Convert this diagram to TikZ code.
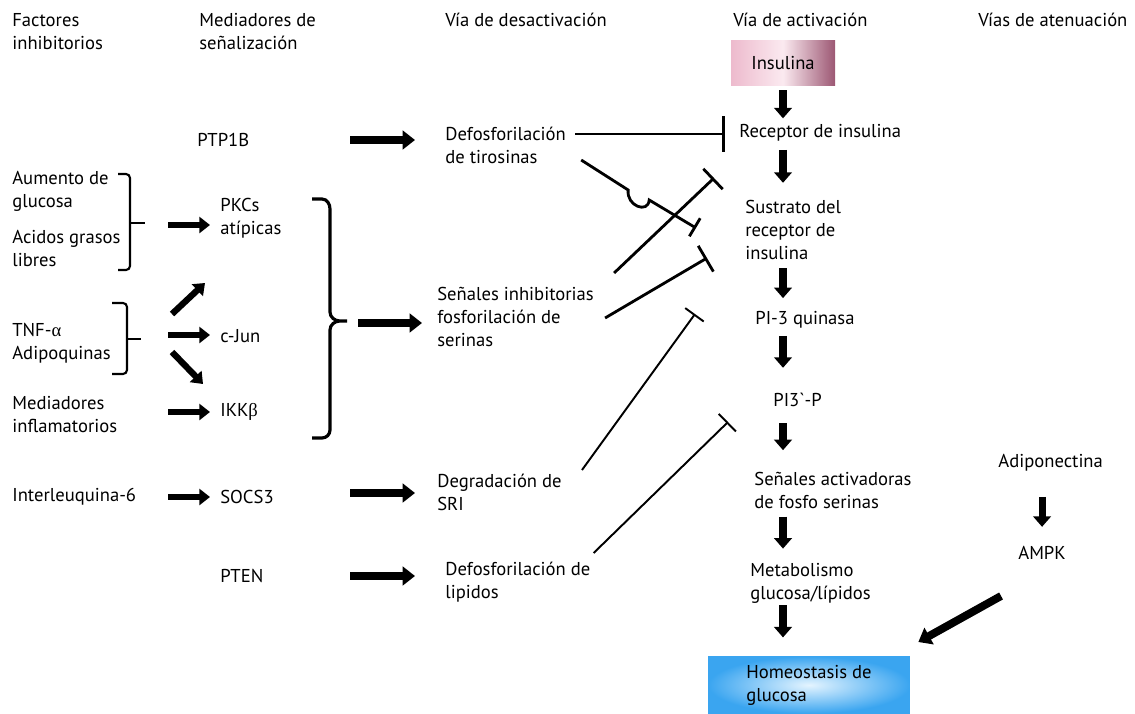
\documentclass[tikz,border=0pt]{standalone}
\usepackage{fontspec}
\setmainfont{PT Sans}
\newfontfamily\grk{Liberation Serif}
\usetikzlibrary{positioning, calc, arrows.meta}
\definecolor{insL}{HTML}{EDBACD}
\definecolor{insM}{HTML}{FBEAF0}
\definecolor{insR}{HTML}{9C5773}
\definecolor{homO}{HTML}{3AA5F0}
\definecolor{homI}{HTML}{E4F4FF}

\begin{document}
\begin{tikzpicture}[x=0.02cm, y=-0.02cm,
	every node/.style={font=\fontsize{10.6}{13.1}\selectfont, inner sep=0pt},
	lbl/.style={anchor=west, align=left},
	fatarrow/.style={line width=4.5pt, -{Triangle[length=7pt, width=10.5pt]}},
	midarrow/.style={line width=3.6pt, -{Triangle[length=6pt, width=9pt]}},
	downarrow/.style={line width=4pt, -{Triangle[length=6pt, width=10pt]}},
	inhib/.style={line width=1.6pt, -{Bar[width=#1]}}, inhib/.default=14pt,
	thininhib/.style={line width=1.1pt, -{Bar[width=#1]}}, thininhib/.default=13pt]
	\useasboundingbox (0,0) rectangle (1135,713);

	% column headers
	\node[lbl] (hfac) at (12,32) {Factores\\inhibitorios};
	\node[lbl] (hmed) at (199,32) {Mediadores de\\señalización};
	\node[lbl] (hdes) at (445,20) {Vía de desactivación};
	\node[lbl] (hact) at (733,20) {Vía de activación};
	\node[lbl] (hate) at (978,20) {Vías de atenuación};

	% activation pathway
	\node[minimum width=2.08cm, minimum height=0.92cm, left color=insL, right color=insR, middle color=insM] (ins) at (783,63) {Insulina};
	\node[lbl] (rec) at (739,133) {Receptor de insulina};
	\node[lbl] (sus) at (745,230) {Sustrato del\\receptor de\\insulina};
	\node[lbl] (pi3) at (755,320) {PI-3 quinasa};
	\node[lbl] (pip) at (773,400) {PI3\textasciigrave-P};
	\node[lbl] (sac) at (754,490) {Señales activadoras\\de fosfo serinas};
	\node[lbl] (met) at (750,583) {Metabolismo\\glucosa/lípidos};
	\node[minimum width=4.04cm, minimum height=1.14cm, align=left, inner color=homI, outer color=homO] (hom) at (809,685) {Homeostasis de\\glucosa};

	\draw[downarrow] (ins.south) ++(0,4) -- ++(0,28);
	\draw[downarrow] (rec.south -| ins.south) ++(0,8) -- ++(0,33);
	\draw[downarrow] (sus.south -| ins.south) ++(0,8) -- ++(0,30);
	\draw[downarrow] (pi3.south -| ins.south) ++(0,7) -- ++(0,32);
	\draw[downarrow] (pip.south -| ins.south) ++(0,16) -- ++(0,27);
	\draw[downarrow] (sac.south -| ins.south) ++(0,8) -- ++(0,32);
	\draw[downarrow] (met.south -| ins.south) ++(0,2) -- ++(0,32);

	% attenuation
	\node[lbl] (adi) at (998,463) {Adiponectina};
	\node[lbl] (ampk) at (1018,553) {AMPK};
	\draw[downarrow] (adi.south -| ampk.south) ++(0,25) -- ++(0,30);
	\draw[fatarrow] ([shift={(-41,36)}]ampk.south) -- ([shift={(8,-43)}]hom.east);

	% inhibitory factors
	\node[lbl] (aum) at (12,191) {Aumento de\\glucosa};
	\node[lbl] (aci) at (12,248) {Acidos grasos\\libres};
	\node[lbl] (tnf) at (12,343) {TNF-{\grk α}\\Adipoquinas};
	\node[lbl] (medi) at (12,415) {Mediadores\\inflamatorios};
	\node[lbl] (il6) at (12,497) {Interleuquina-6};

	% signalling mediators
	\node[lbl] (ptp) at (197,140) {PTP1B};
	\node[lbl] (pkc) at (220,218) {PKCs\\atípicas};
	\node[lbl] (cjun) at (220,336) {c-Jun};
	\node[lbl] (ikk) at (220,412) {IKK{\grk β}};
	\node[lbl] (socs) at (220,497) {SOCS3};
	\node[lbl] (pten) at (220,576) {PTEN};

	% deactivation pathway
	\node[lbl] (defty) at (445,145) {Defosforilación\\de tirosinas};
	\node[lbl] (sinh) at (437,317) {Señales inhibitorias\\fosforilación de\\serinas};
	\node[lbl] (deg) at (437,492) {Degradación de\\SRI};
	\node[lbl] (defli) at (445,582) {Defosforilación de\\lipidos};

	% brackets
	\draw[line width=1.2pt] (118,174) -- (126,174) to[out=0,in=90] (130,178) -- (130,266) to[out=-90,in=0] (126,270) -- (118,270);
	\draw[line width=1.2pt] (130,223) -- (145,223) coordinate (b1);
	\draw[line width=1.2pt] (112,303) -- (123,303) to[out=0,in=90] (127,307) -- (127,370) to[out=-90,in=0] (123,374) -- (112,374);
	\draw[line width=1.2pt] (127,339) -- (141,339) coordinate (b2);
	\draw[line width=1.8pt] (312,199) -- (322,199) to[out=0,in=90] (330,209) -- (330,312) to[out=-90,in=180] (340,321) -- (347,321) coordinate (bt)
		-- (340,321) to[out=180,in=90] (330,330) -- (330,430) to[out=-90,in=0] (322,438) -- (312,438);

	\draw[midarrow] ([shift={(23,2)}]b1) -- ([shift={(-10,7)}]pkc.west);
	\draw[midarrow] ([shift={(31,-25)}]b2) -- ([shift={(-15,65)}]pkc.west);
	\draw[midarrow] ([shift={(27,-4)}]b2) -- ([shift={(-10,-1)}]cjun.west);
	\draw[midarrow] ([shift={(31,13)}]b2) -- ([shift={(-17,-28)}]ikk.west);
	\draw[midarrow] ([shift={(-52,0)}]ikk.west) -- ([shift={(-10,0)}]ikk.west);
	\draw[midarrow] ([shift={(-52,0)}]socs.west) -- ([shift={(-10,0)}]socs.west);

	\draw[fatarrow] ([shift={(-95,-5)}]defty.west) -- ([shift={(-30,-5)}]defty.west);
	\draw[fatarrow] ([shift={(11,2)}]bt) -- ([shift={(-15,6)}]sinh.west);
	\draw[fatarrow] ([shift={(-87,1)}]deg.west) -- ([shift={(-22,1)}]deg.west);
	\draw[fatarrow] ([shift={(-95,-6)}]defli.west) -- ([shift={(-30,-6)}]defli.west);

	% inhibition lines
	\draw[inhib=20pt] ([shift={(9,-11)}]defty.east) -- ([shift={(-14,1)}]rec.west);
	\draw[inhib=12pt] ([shift={(15,15)}]defty.east) -- ++(47,30) .. controls +(-2,16) and +(-1,14) .. ++(21,10) -- ([shift={(-49,-2)}]sus.west);
	\draw[inhib=16pt] ([shift={(20,-44)}]sinh.east) -- ([shift={(-31,-52)}]sus.west);
	\draw[inhib=17pt] ([shift={(11,1)}]sinh.east) -- ([shift={(-38,28)}]sus.west);
	\draw[thininhib=13pt] ([shift={(20,-22)}]deg.east) -- ([shift={(-60,-6)}]pi3.west);
	\draw[thininhib=14pt] ([shift={(3,-29)}]defli.east) -- ([shift={(-45,22)}]pip.west);
\end{tikzpicture}
\end{document}
